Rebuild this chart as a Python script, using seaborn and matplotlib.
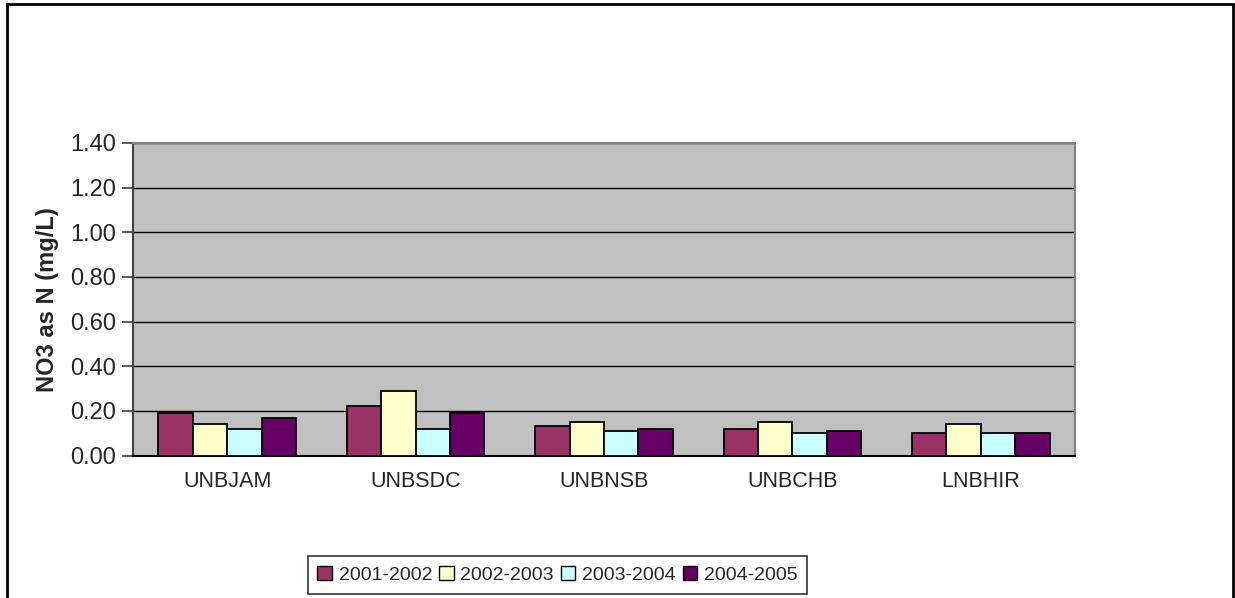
import matplotlib
matplotlib.use("Agg")
import matplotlib.pyplot as plt
import matplotlib.patches as mpatches
import numpy as np
import pandas as pd
import seaborn as sns

sites = ["UNBJAM", "UNBSDC", "UNBNSB", "UNBCHB", "LNBHIR"]
seasons = ["2001-2002", "2002-2003", "2003-2004", "2004-2005"]
no3_2001_2002 = [0.19, 0.22, 0.13, 0.12, 0.10]
no3_2002_2003 = [0.14, 0.29, 0.15, 0.15, 0.14]
no3_2003_2004 = [0.12, 0.12, 0.11, 0.10, 0.10]
no3_2004_2005 = [0.17, 0.19, 0.12, 0.11, 0.10]
y_ticks = [0.0, 0.2, 0.4, 0.6, 0.8, 1.0, 1.2, 1.4]

colors = ["#993366", "#FFFFCC", "#CCFFFF", "#660066"]

series = [no3_2001_2002, no3_2002_2003, no3_2003_2004, no3_2004_2005]
df = pd.DataFrame({
    "site": np.tile(sites, len(seasons)),
    "season": np.repeat(seasons, len(sites)),
    "value": np.concatenate(series),
})

sns.set_theme(style="white")
plt.rcParams["font.family"] = ["Liberation Sans", "DejaVu Sans"]

W, H = 1235, 598
fig = plt.figure(figsize=(W / 100, H / 100), dpi=100)
fig.patch.set_facecolor("white")
left, right, top, bottom = 133, 1075, 143, 455.5
ax = fig.add_axes([left / W, (H - bottom) / H, (right - left) / W, (bottom - top) / H])
ax.set_facecolor("#C0C0C0")

sns.barplot(data=df, x="site", y="value", hue="season", order=sites,
            hue_order=seasons, palette=colors, width=0.73, gap=0,
            edgecolor="black", linewidth=1.3, saturation=1, legend=False,
            errorbar=None, ax=ax, zorder=3)

ax.set_ylim(0, 1.4)
ax.set_xlim(-0.5, len(sites) - 0.5)
ax.set_yticks(y_ticks)
ax.set_yticklabels([f"{v:.2f}" for v in y_ticks], fontsize=17)
ax.yaxis.grid(True, color="black", linewidth=1, zorder=1)
ax.set_axisbelow(True)

ax.set_xticks(range(len(sites)))
ax.set_xticklabels(sites, fontsize=15.5)
ax.set_xticks(np.arange(-0.5, len(sites), 1.0), minor=True)
ax.tick_params(axis="x", which="major", length=0, pad=11)
ax.tick_params(axis="x", which="minor", length=8, width=1.2, color="#404040", direction="out")
ax.tick_params(axis="y", which="major", length=8, width=1.2, color="#404040",
               direction="out", left=True, pad=4)
ax.set_xlabel("")
ax.set_ylabel("NO3 as N (mg/L)", fontsize=17, fontweight="bold", labelpad=8)

for side in ["top", "right"]:
    ax.spines[side].set_color("#808080")
    ax.spines[side].set_linewidth(1.5)
ax.spines["left"].set_color("#404040")
ax.spines["left"].set_linewidth(1.5)
ax.spines["bottom"].set_color("black")
ax.spines["bottom"].set_linewidth(1.5)

handles = [mpatches.Patch(facecolor=c, edgecolor="black", linewidth=1, label=s)
           for c, s in zip(colors, seasons)]
leg = fig.legend(handles=handles, loc="center", bbox_to_anchor=(557.5 / W, (H - 575) / H),
                 ncol=4, fontsize=14, frameon=True, fancybox=False, edgecolor="black",
                 handlelength=0.75, handleheight=0.75, handletextpad=0.35,
                 columnspacing=0.35, borderpad=0.5, borderaxespad=0)
leg.get_frame().set_linewidth(1.2)

fig.add_artist(mpatches.Rectangle((7 / W, -0.02), (1233 - 7) / W, (H - 4) / H + 0.02,
                                  fill=False, edgecolor="black", linewidth=2,
                                  transform=fig.transFigure))

fig.savefig("out.png", dpi=100)
